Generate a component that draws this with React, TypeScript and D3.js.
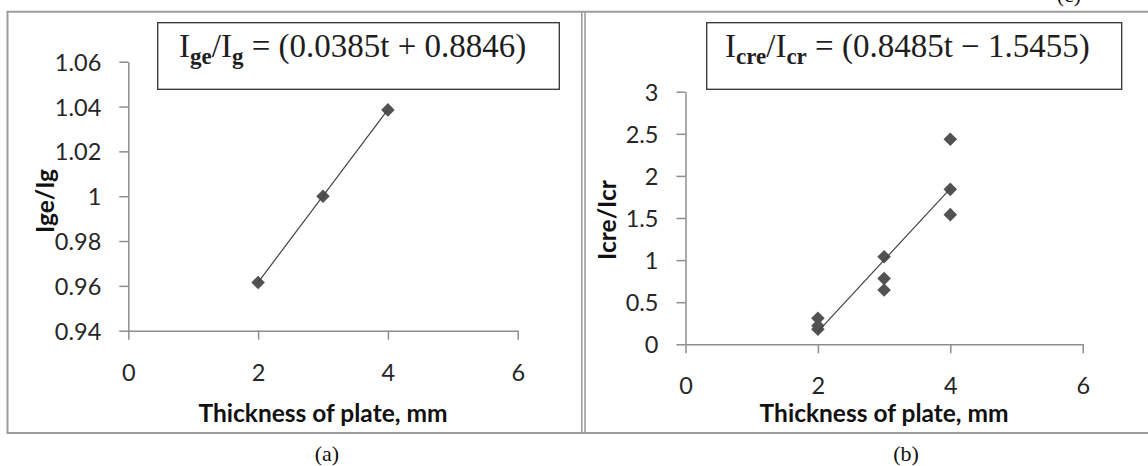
import React, { useEffect, useRef } from 'react';
import * as d3 from 'd3';

// x axis (both panels)
const xTicks = [0, 2, 4, 6];

// panel (a): Ige/Ig vs thickness
const thicknessA = [2, 3, 4];
const ratioA = [0.9615, 1.0, 1.0385];
const yTicksA = [0.94, 0.96, 0.98, 1, 1.02, 1.04, 1.06];
const fitA = [0.0385, 0.8846]; // slope, intercept

// panel (b): Icre/Icr vs thickness
const thicknessB = [2, 2, 2, 3, 3, 3, 4, 4, 4];
const ratioB = [0.31, 0.22, 0.18, 1.04, 0.78, 0.645, 2.435, 1.84, 1.54];
const yTicksB = [0, 0.5, 1, 1.5, 2, 2.5, 3];
const fitB = [0.8485, -1.5455];

const SANS = 'Lato, "Open Sans", sans-serif';
const SERIF = '"Liberation Serif", "Times New Roman", serif';

const panels = [
  {
    xs: thicknessA, ys: ratioA, yTicks: yTicksA, fit: fitA,
    yDomain: [0.94, 1.06], xRange: [128.3, 517.7], yRange: [330.7, 61.7],
    yTitle: 'Ige/Ig', yTitleX: 54, yTitleY: 201,
    eq: { main: 'I', sub1: 'ge', sub2: 'g', rest: ' = (0.0385t + 0.8846)' },
    box: [157.7, 22.7, 559.3, 89.3], eqX: 179,
    caption: '(a)', captionX: 327,
  },
  {
    xs: thicknessB, ys: ratioB, yTicks: yTicksB, fit: fitB,
    yDomain: [0, 3], xRange: [685.5, 1082.7], yRange: [344.3, 91.7],
    yTitle: 'Icre/Icr', yTitleX: 616, yTitleY: 220,
    eq: { main: 'I', sub1: 'cre', sub2: 'cr', rest: ' = (0.8485t \u2212 1.5455)' },
    box: [706.7, 22.7, 1121.7, 89.3], eqX: 725,
    caption: '(b)', captionX: 906,
  },
];

export default function App() {
  const ref = useRef<SVGSVGElement>(null);

  useEffect(() => {
    const svg = d3.select(ref.current);
    svg.selectAll('*').remove();

    // outer frame
    const frame = svg.append('g').attr('stroke', '#9d9d9d').attr('fill', 'none');
    frame.append('line').attr('x1', 6.5).attr('x2', 1148).attr('y1', 11.7).attr('y2', 11.7).attr('stroke-width', 2);
    frame.append('line').attr('x1', 6.5).attr('x2', 1148).attr('y1', 433).attr('y2', 433).attr('stroke-width', 2);
    frame.append('line').attr('x1', 7.5).attr('x2', 7.5).attr('y1', 11.7).attr('y2', 433).attr('stroke-width', 2);
    frame.append('line').attr('x1', 581.8).attr('x2', 581.8).attr('y1', 11.7).attr('y2', 433).attr('stroke-width', 1.6);
    frame.append('line').attr('x1', 585).attr('x2', 585).attr('y1', 11.7).attr('y2', 433).attr('stroke-width', 1.6);

    // caption of the next figure, cut off at the top edge as in the source
    svg.append('text').attr('x', 1069).attr('y', 1.5).attr('text-anchor', 'middle')
      .attr('font-family', SERIF).attr('font-size', 22).attr('fill', '#111').text('(c)');

    panels.forEach(p => {
      const x = d3.scaleLinear().domain([0, 6]).range(p.xRange);
      const y = d3.scaleLinear().domain(p.yDomain).range(p.yRange);
      const g = svg.append('g');

      const xAxis = g.append('g')
        .attr('transform', `translate(0, ${p.yRange[0]})`)
        .call(d3.axisBottom(x).tickValues(xTicks).tickSize(9).tickSizeOuter(0).tickFormat(d => String(d)));
      xAxis.selectAll('text').attr('y', 50).attr('dy', 0);

      const yAxis = g.append('g')
        .attr('transform', `translate(${p.xRange[0]}, 0)`)
        .call(d3.axisLeft(y).tickValues(p.yTicks).tickSize(9).tickSizeOuter(0).tickFormat(d => String(d)));
      yAxis.selectAll('text').attr('x', -27).attr('dy', '0.36em');

      [xAxis, yAxis].forEach(a => {
        a.select('.domain').attr('stroke', '#8e8e8e').attr('stroke-width', 1.5);
        a.selectAll('.tick line').attr('stroke', '#8e8e8e').attr('stroke-width', 1.5);
        a.selectAll('text').attr('font-family', SANS).attr('font-size', 23.5).attr('fill', '#262626');
      });

      // axis titles
      g.append('text')
        .attr('x', (p.xRange[0] + p.xRange[1]) / 2).attr('y', 422)
        .attr('text-anchor', 'middle').attr('font-family', SANS).attr('font-weight', 'bold')
        .attr('font-size', 24.5).attr('fill', '#111').text('Thickness of plate, mm');
      g.append('text')
        .attr('transform', `translate(${p.yTitleX}, ${p.yTitleY}) rotate(-90)`)
        .attr('text-anchor', 'middle').attr('font-family', SANS).attr('font-weight', 'bold')
        .attr('font-size', 24.5).attr('fill', '#111').text(p.yTitle);

      // points
      const pts = p.xs.map((v, i) => [v, p.ys[i]]);
      g.selectAll('.pt').data(pts).join('path')
        .attr('class', 'pt')
        .attr('d', d3.symbol(d3.symbolSquare, 92)())
        .attr('transform', d => `translate(${x(d[0])}, ${y(d[1])}) rotate(45)`)
        .attr('fill', '#525252');

      // linear trend line
      const ext = d3.extent(p.xs) as [number, number];
      const line = d3.line<number>().x(t => x(t)).y(t => y(p.fit[0] * t + p.fit[1]));
      g.append('path').datum(ext).attr('d', line)
        .attr('fill', 'none').attr('stroke', '#444').attr('stroke-width', 1.2);

      // equation box
      const [bx0, by0, bx1, by1] = p.box;
      g.append('rect').attr('x', bx0).attr('y', by0).attr('width', bx1 - bx0).attr('height', by1 - by0)
        .attr('fill', 'none').attr('stroke', '#333').attr('stroke-width', 1.3);
      const eq = g.append('text').attr('x', p.eqX).attr('y', 57)
        .attr('font-family', SERIF).attr('font-size', 33).attr('fill', '#1e1e1e');
      eq.append('tspan').text(p.eq.main);
      eq.append('tspan').attr('dy', 7).attr('font-size', 23).attr('font-weight', 'bold').text(p.eq.sub1);
      eq.append('tspan').attr('dy', -7).text('/I');
      eq.append('tspan').attr('dy', 7).attr('font-size', 23).attr('font-weight', 'bold').text(p.eq.sub2);
      eq.append('tspan').attr('dy', -7).text(p.eq.rest);

      // caption
      g.append('text').attr('x', p.captionX).attr('y', 461).attr('text-anchor', 'middle')
        .attr('font-family', SERIF).attr('font-size', 22).attr('fill', '#111').text(p.caption);
    });
  }, []);

  return (
    <svg ref={ref} width={1148} height={466}
      style={{ position: 'absolute', left: 0, top: 0, background: '#fff' }} />
  );
}
